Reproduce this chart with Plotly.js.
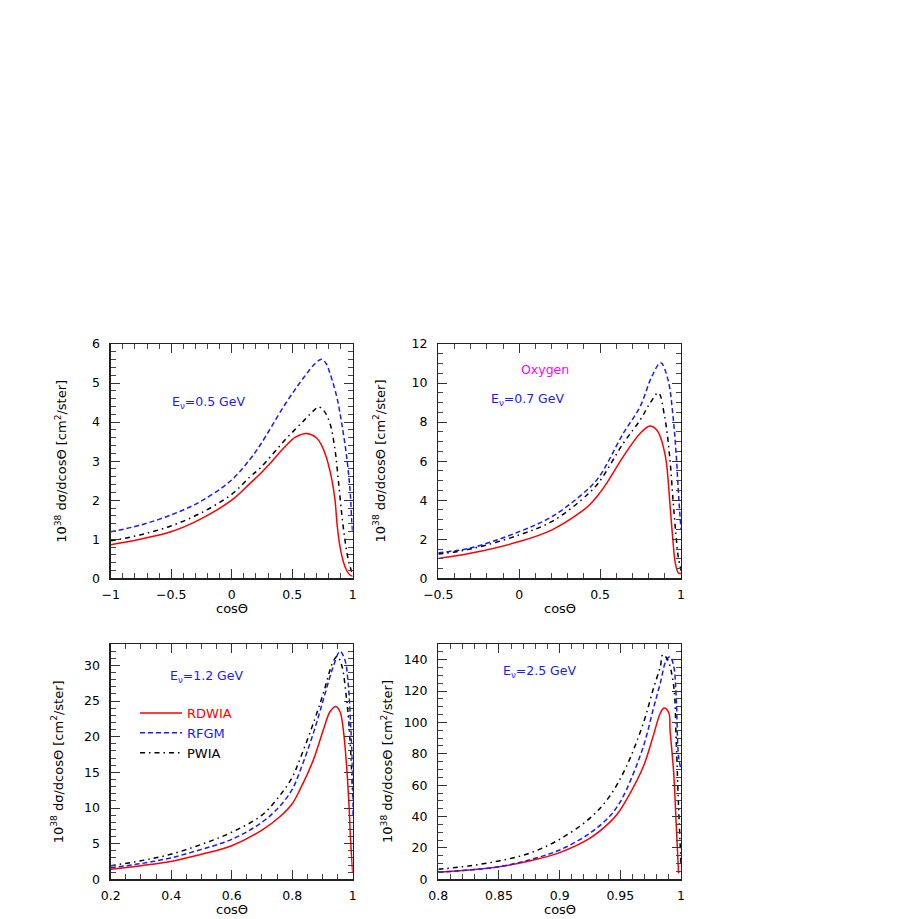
<!DOCTYPE html>
<html>
<head>
<meta charset="utf-8">
<script src="https://cdn.plot.ly/plotly-3.0.1.min.js"></script>
<style>
  html, body { margin: 0; padding: 0; background: #fff; }
  #chart { width: 919px; height: 919px; }
</style>
</head>
<body>
<div id="chart"></div>
<script>
// E = 0.5 GeV
const x1Rd = [-1, -0.758, -0.504, -0.262, 0, 0.151, 0.234, 0.316, 0.44, 0.53, 0.62, 0.70, 0.744, 0.78, 0.812, 0.835, 0.854, 0.873, 0.895, 0.922, 0.95, 0.975, 1.0];
const y1Rd = [0.86, 1.0, 1.19, 1.51, 2.0, 2.43, 2.67, 2.94, 3.37, 3.62, 3.71, 3.6, 3.4, 3.12, 2.75, 2.4, 2.0, 1.32, 0.81, 0.43, 0.2, 0.09, 0.05];
const x1Fg = [-1, -0.758, -0.504, -0.262, 0, 0.151, 0.233, 0.44, 0.6, 0.69, 0.744, 0.78, 0.812, 0.868, 0.909, 0.95, 0.978, 0.992, 1.0];
const y1Fg = [1.19, 1.36, 1.62, 1.96, 2.52, 3.05, 3.4, 4.45, 5.16, 5.5, 5.61, 5.5, 5.25, 4.65, 3.97, 3.11, 2.26, 1.49, 1.15];
const x1Pw = [-1, -0.758, -0.504, -0.262, 0, 0.151, 0.234, 0.44, 0.6, 0.68, 0.716, 0.76, 0.812, 0.854, 0.881, 0.909, 0.936, 0.964, 0.992, 1.0];
const y1Pw = [0.96, 1.11, 1.34, 1.66, 2.15, 2.6, 2.82, 3.54, 4.05, 4.3, 4.39, 4.3, 3.97, 3.29, 2.52, 1.66, 0.98, 0.47, 0.17, 0.12];

// E = 0.7 GeV
const x2Rd = [-0.5, -0.302, 0, 0.2, 0.384, 0.437, 0.487, 0.54, 0.643, 0.747, 0.808, 0.85, 0.872, 0.9, 0.913, 0.933, 0.95, 0.965, 0.985, 1.0];
const y2Rd = [1.02, 1.28, 1.88, 2.47, 3.41, 3.78, 4.25, 4.86, 6.23, 7.42, 7.8, 7.6, 7.25, 6.4, 5.71, 3.67, 1.96, 0.77, 0.26, 0.25];
const x2Fg = [-0.5, -0.302, 0, 0.2, 0.384, 0.487, 0.643, 0.747, 0.819, 0.875, 0.92, 0.951, 0.971, 0.987, 1.0];
const y2Fg = [1.31, 1.55, 2.39, 3.15, 4.27, 5.12, 7.42, 8.79, 10.32, 11.04, 10.15, 8.27, 6.23, 4.0, 2.5];
const x2Pw = [-0.5, -0.302, 0, 0.2, 0.384, 0.487, 0.643, 0.747, 0.808, 0.86, 0.899, 0.93, 0.951, 0.968, 0.983, 1.0];
const y2Pw = [1.24, 1.5, 2.22, 2.9, 4.01, 4.86, 6.91, 8.1, 8.96, 9.5, 8.27, 6.23, 4.0, 2.3, 1.1, 0.4];

// E = 1.2 GeV
const x3Rd = [0.2, 0.3, 0.398, 0.5, 0.6, 0.7, 0.76, 0.8, 0.826, 0.87, 0.903, 0.925, 0.944, 0.958, 0.969, 0.98, 0.988, 0.993, 1.0];
const y3Rd = [1.4, 1.91, 2.5, 3.5, 4.7, 6.9, 8.8, 10.6, 12.6, 16.75, 20.97, 23.5, 24.24, 23.5, 20.97, 15.8, 10.2, 5.5, 0.9];
const x3Fg = [0.2, 0.3, 0.398, 0.5, 0.6, 0.7, 0.76, 0.8, 0.826, 0.87, 0.903, 0.936, 0.958, 0.974, 0.985, 0.993, 0.999, 1.0];
const y3Fg = [1.63, 2.2, 3.0, 4.2, 5.6, 8.0, 10.3, 12.6, 15.2, 20.5, 25.2, 29.86, 31.97, 30.8, 27.5, 21.9, 15.8, 8.8];
const x3Pw = [0.2, 0.3, 0.398, 0.5, 0.6, 0.7, 0.76, 0.8, 0.826, 0.87, 0.903, 0.936, 0.949, 0.963, 0.98, 0.991, 1.0];
const y3Pw = [1.91, 2.6, 3.5, 4.9, 6.6, 9.0, 11.8, 14.3, 16.9, 21.9, 26.1, 30.6, 31.26, 30.1, 25.2, 19.6, 11.6];

// E = 2.5 GeV
const x4Rd = [0.8, 0.825, 0.85, 0.875, 0.9, 0.925, 0.941, 0.948, 0.955, 0.969, 0.977, 0.983, 0.986, 0.99, 0.991, 0.994, 0.996, 0.998];
const y4Rd = [4.47, 5.9, 8.0, 11.7, 17.0, 26.2, 36.1, 42.1, 50.6, 71.9, 91.1, 106, 109.2, 106, 95, 67.7, 35.8, 3.8];
const x4Fg = [0.8, 0.825, 0.85, 0.875, 0.9, 0.925, 0.941, 0.948, 0.955, 0.969, 0.977, 0.983, 0.988, 0.991, 0.994, 0.996, 0.998, 1.0];
const y4Fg = [4.47, 5.9, 8.0, 12.4, 18.7, 29.4, 40, 47, 57, 84.7, 108.1, 125.2, 140, 141.8, 135.8, 116.6, 78.3, 70];
const x4Pw = [0.8, 0.825, 0.85, 0.875, 0.9, 0.925, 0.941, 0.955, 0.969, 0.977, 0.983, 0.985, 0.989, 0.994, 0.996, 0.998, 1.0];
const y4Pw = [6.4, 8.5, 11.7, 16.6, 25.5, 39, 52.7, 71.9, 99.6, 120.9, 135.8, 143.2, 140, 123, 89, 46.4, 10];

const energies = ["0.5", "0.7", "1.2", "2.5"];

const FONT = "DejaVu Sans, Arial, sans-serif";
const RED = "#ff0000", BLUE = "#1a1aff", BLACK = "#000000";

const panels = [
  {xs: [x1Rd, x1Fg, x1Pw], ys: [y1Rd, y1Fg, y1Pw]},
  {xs: [x2Rd, x2Fg, x2Pw], ys: [y2Rd, y2Fg, y2Pw]},
  {xs: [x3Rd, x3Fg, x3Pw], ys: [y3Rd, y3Fg, y3Pw]},
  {xs: [x4Rd, x4Fg, x4Pw], ys: [y4Rd, y4Fg, y4Pw]}
];
const models = [
  {name: "RDWIA", color: RED, dash: "solid"},
  {name: "RFGM", color: BLUE, dash: "5px,3px"},
  {name: "PWIA", color: BLACK, dash: "5px,4px,1.5px,4px"}
];

const traces = [];
panels.forEach((p, i) => {
  const sfx = i === 0 ? "" : String(i + 1);
  models.forEach((m, j) => {
    traces.push({
      x: p.xs[j], y: p.ys[j],
      xaxis: "x" + sfx, yaxis: "y" + sfx,
      type: "scatter", mode: "lines",
      name: '<span style="color:' + m.color + '">' + m.name + '</span>',
      legendgroup: m.name,
      showlegend: i === 2,
      line: {color: m.color, width: 1.5, dash: m.dash, shape: "spline", smoothing: 1}
    });
  });
});

const W = 919;
const colDom = [[110.7 / W, 352.7 / W], [438.3 / W, 681 / W]];
const rowDom = [[1 - 578.3 / W, 1 - 344 / W], [1 - 879.3 / W, 1 - 644 / W]];

function xAxis(dom, range, dtick, minor, anchor) {
  return {
    domain: dom, range: range, anchor: anchor,
    showline: true, linecolor: "#222", linewidth: 1.3, mirror: "ticks",
    ticks: "inside", ticklen: 9, tickwidth: 1, tickcolor: "#333", dtick: dtick, tick0: range[0],
    minor: {ticks: "inside", ticklen: 5, dtick: minor, tickcolor: "#444", tickwidth: 1},
    showgrid: false, zeroline: false,
    tickfont: {family: FONT, size: 12.5, color: "#000"}, ticklabelstandoff: 4,
    fixedrange: true
  };
}
function yAxis(dom, range, dtick, minor, anchor) {
  const a = xAxis(dom, range, dtick, minor, anchor);
  a.ticklabelstandoff = 7;
  return a;
}

const layout = {
  width: 919, height: 919,
  margin: {l: 0, r: 0, t: 0, b: 0},
  paper_bgcolor: "#fff", plot_bgcolor: "#fff",
  showlegend: true,
  legend: {
    x: 135 / W, y: 1 - 698 / W, xanchor: "left", yanchor: "top",
    bgcolor: "rgba(0,0,0,0)", font: {family: FONT, size: 13}, tracegroupgap: 0,
    itemwidth: 42
  },
  xaxis: xAxis(colDom[0], [-1, 1], 0.5, 0.1, "y"),
  yaxis: yAxis(rowDom[0], [0, 6], 1, 0.2, "x"),
  xaxis2: xAxis(colDom[1], [-0.5, 1], 0.5, 0.1, "y2"),
  yaxis2: yAxis(rowDom[0], [0, 12], 2, 0.5, "x2"),
  xaxis3: xAxis(colDom[0], [0.2, 1], 0.2, 0.05, "y3"),
  yaxis3: yAxis(rowDom[1], [0, 33], 5, 1, "x3"),
  xaxis4: xAxis(colDom[1], [0.8, 1], 0.05, 0.01, "y4"),
  yaxis4: yAxis(rowDom[1], [0, 150], 20, 5, "x4"),
  annotations: []
};

const ytitle = "10<sup>38</sup> dσ/dcosΘ [cm<sup>2</sup>/ster]";
const yShift = [-50, -59, -54, -52];
for (let i = 0; i < 4; i++) {
  const sfx = i === 0 ? "" : String(i + 1);
  layout.annotations.push({
    xref: "x" + sfx + " domain", yref: "y" + sfx + " domain", x: 0.5, y: 0,
    yanchor: "top", yshift: -21, showarrow: false, text: "cosΘ",
    font: {family: FONT, size: 13, color: "#000"}
  });
  layout.annotations.push({
    xref: "x" + sfx + " domain", yref: "y" + sfx + " domain", x: 0, y: 0.5,
    xanchor: "center", yanchor: "middle",
    xshift: yShift[i], textangle: -90, showarrow: false, text: ytitle,
    font: {family: FONT, size: 13, color: "#000"}
  });
}

const eLabelPos = [[-0.188, 4.49], [0.054, 9.17], [0.518, 28.45], [0.884, 132.2]];
eLabelPos.forEach((p, i) => {
  const sfx = i === 0 ? "" : String(i + 1);
  layout.annotations.push({
    xref: "x" + sfx, yref: "y" + sfx, x: p[0], y: p[1], showarrow: false,
    text: "E<sub>ν</sub>=" + energies[i] + " GeV",
    font: {family: FONT, size: 12.5, color: BLUE}
  });
});
layout.annotations.push({
  xref: "x2", yref: "y2", x: 0.159, y: 10.67, showarrow: false,
  text: "Oxygen", font: {family: FONT, size: 12.5, color: "#ff00ff"}
});

Plotly.newPlot("chart", traces, layout, {staticPlot: true});
</script>
</body>
</html>
